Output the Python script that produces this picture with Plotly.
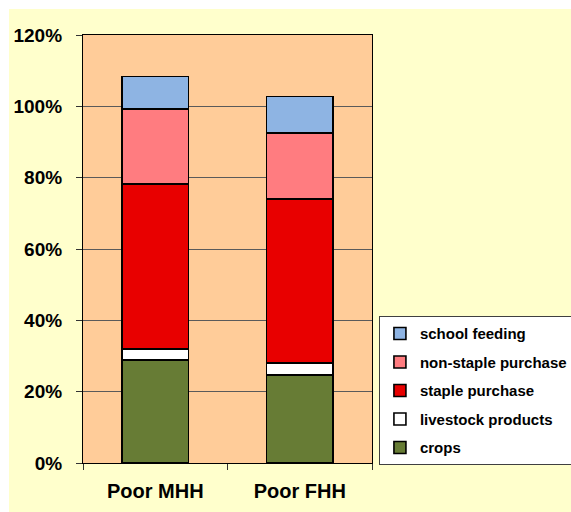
import plotly.graph_objects as go

# Household groups and the share of food access from each source (%)
groups = ["Poor MHH", "Poor FHH"]
crops = [28.8, 24.6]
livestock_products = [3.2, 3.5]
staple_purchase = [46.2, 45.9]
non_staple_purchase = [21.1, 18.6]
school_feeding = [9.1, 10.2]

y_ticks = [0, 20, 40, 60, 80, 100, 120]

series = [
    ("crops", crops, "#677C35"),
    ("livestock products", livestock_products, "#FFFFFF"),
    ("staple purchase", staple_purchase, "#E80000"),
    ("non-staple purchase", non_staple_purchase, "#FF7C80"),
    ("school feeding", school_feeding, "#8EB4E3"),
]

FONT = "Arial, 'Liberation Sans', sans-serif"

fig = go.Figure()
n = len(series)
for i, (name, vals, color) in enumerate(series):
    fig.add_trace(go.Bar(
        x=groups, y=vals, name=name, legendgroup=name,
        legendrank=n - i,  # top segment listed first
        marker=dict(color=color, line=dict(color="#000000", width=1.6)),
        width=0.46,
    ))

fig.update_layout(
    width=571, height=512,
    margin=dict(l=83, r=199, t=35, b=49, pad=0, autoexpand=False),
    barmode="stack",
    paper_bgcolor="#FFFFFF",
    plot_bgcolor="rgba(0,0,0,0)",
    font=dict(family=FONT, color="#000000"),
    showlegend=True,
    legend=dict(
        x=1.024, y=0.343, xanchor="left", yanchor="top",
        bgcolor="#FFFFFF", bordercolor="#404040", borderwidth=1,
        font=dict(family=FONT, size=15, color="#000000", weight="bold"),
        traceorder="grouped", tracegroupgap=6,
        itemwidth=30,
    ),
    shapes=[
        # yellow chart-area background
        dict(type="rect", xref="paper", yref="paper", layer="below",
             x0=-0.256, x1=1.8, y0=-0.12, y1=1.0607,
             fillcolor="#FFFFCC", line=dict(width=0)),
        # peach plot-area background
        dict(type="rect", xref="paper", yref="paper", layer="below",
             x0=0, x1=1, y0=0, y1=1,
             fillcolor="#FFCC99", line=dict(width=0)),
    ],
    xaxis=dict(
        type="category",
        showline=True, linecolor="#000000", linewidth=1.2, mirror=True,
        ticks="outside", ticklen=6, tickcolor="#333333", tickson="boundaries",
        tickfont=dict(family=FONT, size=20, color="#000000", weight="bold"),
        ticklabelstandoff=10,
        showgrid=False,
    ),
    yaxis=dict(
        range=[0, 120], tickvals=y_ticks, ticktext=[f"{v}%" for v in y_ticks],
        showline=True, linecolor="#000000", linewidth=1.2, mirror=True,
        ticks="outside", ticklen=6, tickcolor="#333333",
        tickfont=dict(family=FONT, size=19, color="#000000", weight="bold"),
        ticklabelstandoff=10,
        showgrid=True, gridcolor="#5A5A5A", gridwidth=1,
        zeroline=False,
    ),
)

fig.write_html("out.html")
